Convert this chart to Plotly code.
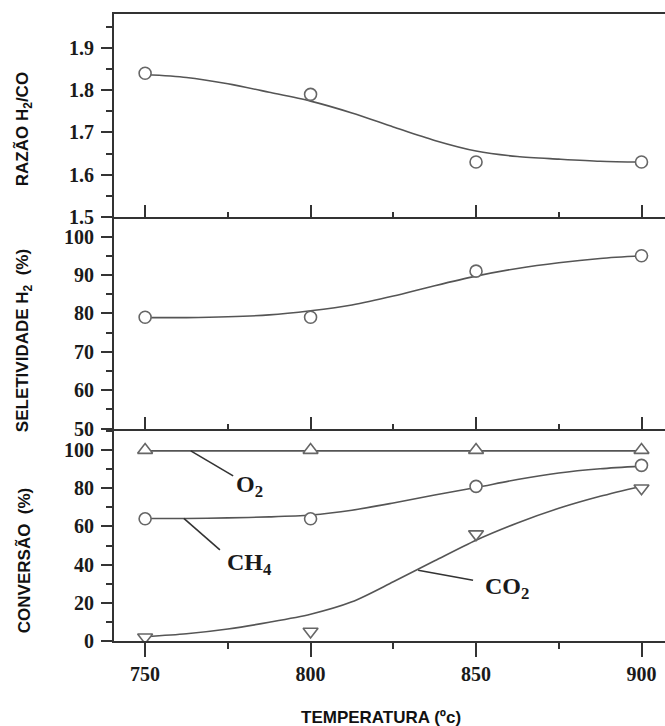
import plotly.graph_objects as go

# ---- data ----
temps = [750, 800, 850, 900]
razao = [1.84, 1.79, 1.63, 1.63]
selet = [79, 79, 91, 95]
o2 = [100, 100, 100, 100]
ch4 = [64, 64, 81, 92]
co2 = [2, 5, 56, 80]

fit_t = [750, 762.5, 775, 787.5, 800, 812.5, 825, 837.5, 850, 862.5, 875, 887.5, 900]
razao_fit = [1.837, 1.830, 1.815, 1.795, 1.774, 1.746, 1.713, 1.681, 1.656, 1.643, 1.637, 1.632, 1.630]
selet_fit = [78.9, 78.9, 79.1, 79.6, 80.7, 82.2, 84.5, 87.2, 89.7, 91.7, 93.2, 94.3, 95.0]
o2_fit = [99.6, 99.6, 99.6, 99.6, 99.6, 99.6, 99.6, 99.6, 99.6, 99.6, 99.6, 99.6, 99.6]
ch4_fit = [64.2, 64.2, 64.5, 65.0, 66.0, 68.5, 72.3, 76.5, 80.4, 84.6, 88.0, 90.2, 91.6]
co2_fit = [2.3, 3.8, 6.3, 9.8, 14.0, 20.5, 31.0, 42.0, 52.8, 61.8, 69.5, 75.8, 81.1]

x_ticks = [750, 800, 850, 900]
y1_ticks = [1.5, 1.6, 1.7, 1.8, 1.9]
y2_ticks = [50, 60, 70, 80, 90, 100]
y3_ticks = [0, 20, 40, 60, 80, 100]

LINE = "#555555"
MARK = "#666666"
AXC = "#333333"
TICKFONT = dict(family="Liberation Serif", size=20, color="#1a1a1a", weight=700)

fig = go.Figure()

def curve(x, y, xa, ya):
    fig.add_trace(go.Scatter(x=x, y=y, mode="lines", xaxis=xa, yaxis=ya,
                             line=dict(color=LINE, width=1.6, shape="spline", smoothing=0.8),
                             showlegend=False, hoverinfo="skip"))

def marks(x, y, xa, ya, sym, size):
    fig.add_trace(go.Scatter(x=x, y=y, mode="markers", xaxis=xa, yaxis=ya,
                             marker=dict(symbol=sym, size=size, color="white",
                                         line=dict(color=MARK, width=1.6)),
                             showlegend=False))

curve(fit_t, razao_fit, "x", "y")
marks(temps, razao, "x", "y", "circle", 12)
curve(fit_t, selet_fit, "x2", "y2")
marks(temps, selet, "x2", "y2", "circle", 12)
curve(fit_t, o2_fit, "x3", "y3")
curve(fit_t, ch4_fit, "x3", "y3")
curve(fit_t, co2_fit, "x3", "y3")
marks(temps, o2, "x3", "y3", "triangle-up", 13)
marks(temps, ch4, "x3", "y3", "circle", 12)
marks(temps, co2, "x3", "y3", "triangle-down", 13)

xr = [740.6, 907.1]
xcommon = dict(range=xr, tickvals=x_ticks, showline=True, linecolor=AXC, linewidth=2,
               tickwidth=2, tickcolor=AXC, showgrid=False, zeroline=False, tickfont=TICKFONT)
ycommon = dict(showline=True, linecolor=AXC, linewidth=2, ticks="outside", ticklen=11,
               tickwidth=2, tickcolor=AXC, showgrid=False, zeroline=False, tickfont=TICKFONT,
               ticklabelstandoff=3)

fig.update_layout(
    width=665, height=726,
    margin=dict(l=114, r=0, t=14, b=85),
    plot_bgcolor="white", paper_bgcolor="white",
    xaxis=dict(**xcommon, anchor="y", ticks="inside", ticklen=12, showticklabels=False,
               mirror=True, minor=dict(dtick=25, tick0=750, ticks="inside", ticklen=5,
                                       tickwidth=2, tickcolor=AXC)),
    yaxis=dict(**ycommon, domain=[0.6762, 1.0], range=[1.5, 1.98], tickvals=y1_ticks,
               tickformat=".1f", anchor="x",
               minor=dict(dtick=0.05, tick0=1.5, ticks="outside", ticklen=6, tickwidth=2,
                          tickcolor=AXC)),
    xaxis2=dict(**xcommon, anchor="y2", ticks="inside", ticklen=12, showticklabels=False,
                minor=dict(dtick=25, tick0=750, ticks="inside", ticklen=5,
                           tickwidth=2, tickcolor=AXC)),
    yaxis2=dict(**ycommon, domain=[0.3389, 0.6762], range=[50, 105.1], tickvals=y2_ticks,
                anchor="x2",
                minor=dict(dtick=5, tick0=50, ticks="outside", ticklen=6, tickwidth=2,
                           tickcolor=AXC)),
    xaxis3=dict(**xcommon, anchor="y3", ticks="outside", ticklen=14, ticklabelstandoff=0,
                minor=dict(dtick=25, tick0=750, ticks="outside", ticklen=6,
                           tickwidth=2, tickcolor=AXC)),
    yaxis3=dict(**ycommon, domain=[0.0, 0.3389], range=[0, 111.3], tickvals=y3_ticks,
                anchor="x3",
                minor=dict(dtick=10, tick0=0, ticks="outside", ticklen=6, tickwidth=2,
                           tickcolor=AXC)),
)

TITLEFONT = dict(family="Liberation Sans", size=17, color="#111111", weight=700)
LABELFONT = dict(family="Liberation Serif", size=24, color="#1a1a1a", weight=700)

ann = [
    dict(text="RAZÃO H<sub>2</sub>/CO", x=-0.163, y=0.8166, textangle=-90),
    dict(text="SELETIVIDADE H<sub>2</sub>  (%)", x=-0.163, y=0.4785, textangle=-90),
    dict(text="CONVERSÃO  (%)", x=-0.163, y=0.1276, textangle=-90),
    dict(text="TEMPERATURA (ºc)", x=0.4846, y=-0.1228, textangle=0),
]
for a in ann:
    fig.add_annotation(xref="paper", yref="paper", showarrow=False, font=TITLEFONT,
                       xanchor="center", yanchor="middle", **a)

# series labels with leader lines (panel 3)
labels = [("O<sub>2</sub>", 777.0, 81.0), ("CH<sub>4</sub>", 774.0, 40.5), ("CO<sub>2</sub>", 852.0, 27.5)]
for txt, lx, ly in labels:
    fig.add_annotation(xref="x3", yref="y3", x=lx, y=ly, text=txt, showarrow=False,
                       font=LABELFONT, xanchor="left", yanchor="middle")

leaders = [(763.8, 99.6, 776.6, 86.5), (761.7, 64.2, 772.6, 47.7), (832.5, 37.1, 849.1, 31.8)]
for x0, y0, x1, y1 in leaders:
    fig.add_shape(type="line", xref="x3", yref="y3", x0=x0, y0=y0, x1=x1, y1=y1,
                  line=dict(color=AXC, width=1.6))

fig.write_html("out.html")
